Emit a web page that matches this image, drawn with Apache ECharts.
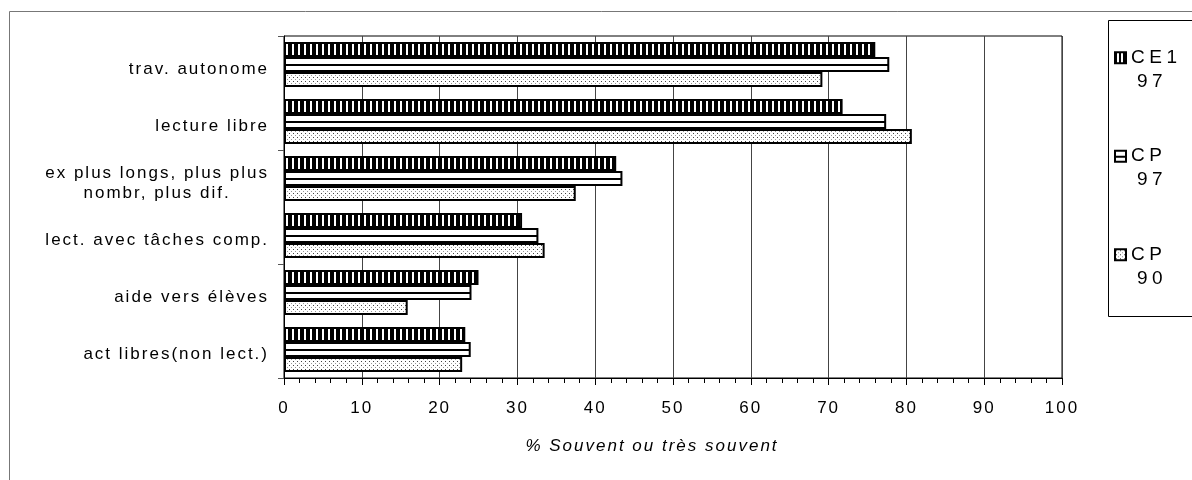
<!DOCTYPE html>
<html>
<head>
<meta charset="utf-8">
<style>
  html, body { margin: 0; padding: 0; background: #fff; }
  #chart { width: 1192px; height: 480px; }
</style>
<script src="https://cdn.jsdelivr.net/npm/echarts@6/dist/echarts.min.js"></script>
</head>
<body>
<div id="chart"></div>
<script>
// Activities, listed top to bottom
const categories = [
  'trav. autonome',
  'lecture libre',
  'ex plus longs, plus plus\nnombr, plus dif.',
  'lect. avec tâches comp.',
  'aide vers élèves',
  'act libres(non lect.)'
];
// % "souvent ou très souvent" per class group
const ce1_97 = [76.0, 71.8, 42.7, 30.6, 25.0, 23.3];
const cp_97  = [77.8, 77.4, 43.5, 32.7, 24.1, 24.0];
const cp_90  = [69.2, 80.7, 37.5, 33.5, 15.9, 22.9];
const seriesNames = ['CE1 97', 'CP 97', 'CP 90'];
const xTicks = [0, 10, 20, 30, 40, 50, 60, 70, 80, 90, 100];
const axisTitle = '% Souvent ou très souvent';

const FONT = 'Liberation Sans, Arial, sans-serif';

// Spread-out lettering: applied to every canvas text draw and measurement
const SPACING_BY_SIZE = { 17: 2, 19: 4.5 };
function applySpacing(ctx) {
  const m = /(\d+(?:\.\d+)?)px/.exec(ctx.font || '');
  const size = m ? Math.round(parseFloat(m[1])) : 0;
  ctx.letterSpacing = (SPACING_BY_SIZE[size] || 0) + 'px';
}
['fillText', 'measureText'].forEach(function (fn) {
  const base = CanvasRenderingContext2D.prototype[fn];
  CanvasRenderingContext2D.prototype[fn] = function () {
    applySpacing(this);
    return base.apply(this, arguments);
  };
});

// Fill patterns
function tile(w, h, draw) {
  const c = document.createElement('canvas');
  c.width = w; c.height = h;
  const g = c.getContext('2d');
  g.fillStyle = '#fff';
  g.fillRect(0, 0, w, h);
  draw(g);
  return c;
}
// black with thin white vertical lines
function stripes(w, black) {
  return tile(w, 4, function (g) {
    g.fillStyle = '#000';
    g.fillRect(0, 0, black, 4);
  });
}
// white with a single horizontal rule per category band (band = 57px)
function ruled(offset) {
  return tile(4, 57, function (g) {
    g.fillStyle = '#000';
    g.fillRect(0, offset, 4, 2);
  });
}
// light dotted fill
const dotted = tile(4, 4, function (g) {
  g.fillStyle = '#444';
  g.fillRect(1, 1, 1, 1);
  g.fillStyle = '#999';
  g.fillRect(3, 3, 1, 1);
});

const fills = [
  { image: stripes(6, 4), repeat: 'repeat' },
  { image: ruled(7), repeat: 'repeat' },
  { image: dotted, repeat: 'repeat' }
];
// legend swatches are filled in their own local coordinates
const legendFills = [
  { image: stripes(4, 2), repeat: 'repeat' },
  { image: ruled(5), repeat: 'repeat' },
  { image: dotted, repeat: 'repeat' }
];
const values = [ce1_97, cp_97, cp_90];

const chart = echarts.init(document.getElementById('chart'), null, { renderer: 'canvas' });

const option = {
  backgroundColor: '#fff',
  animation: false,
  textStyle: { fontFamily: FONT, color: '#000' },
  graphic: [
    { type: 'rect', shape: { x: 9.5, y: 11.5, width: 1300, height: 600 },
      style: { fill: 'none', stroke: '#777', lineWidth: 1 }, z: -10 },
    { type: 'rect', shape: { x: 1108.5, y: 20.5, width: 200, height: 296 },
      style: { fill: '#fff', stroke: '#000', lineWidth: 1 }, z: -5 }
  ],
  grid: {
    left: 284, top: 36, width: 778, height: 342,
    show: true, borderColor: '#000', borderWidth: 1, backgroundColor: '#fff'
  },
  legend: {
    orient: 'vertical',
    left: 1114,
    top: 46,
    padding: 0,
    itemGap: 51,
    itemWidth: 11,
    itemHeight: 11,
    icon: 'rect',
    data: seriesNames.map(function (n, i) {
      return { name: n, itemStyle: { color: legendFills[i] } };
    }),
    formatter: function (name) {
      const parts = name.split(' ');
      return '{a|' + parts[0] + '}\n{b|' + parts[1] + '}';
    },
    textStyle: {
      padding: [24, 0, 0, 0],
      rich: {
        a: { fontFamily: FONT, fontSize: 19, lineHeight: 24, color: '#000' },
        b: { fontFamily: FONT, fontSize: 19, lineHeight: 24, color: '#000', padding: [0, 0, 0, 6] }
      }
    }
  },
  xAxis: {
    type: 'value',
    min: 0,
    max: 100,
    interval: 10,
    name: axisTitle,
    nameLocation: 'middle',
    nameGap: 59,
    nameTextStyle: { fontFamily: FONT, fontSize: 17, fontStyle: 'italic', color: '#000', padding: [0, 42, 0, 0] },
    axisLine: { show: true, lineStyle: { color: '#000', width: 1 } },
    axisTick: { show: true, length: 7, lineStyle: { color: '#000' } },
    minorTick: { show: true, splitNumber: 5, length: 5, lineStyle: { color: '#000' } },
    axisLabel: {
      margin: 21, fontFamily: FONT, fontSize: 17, color: '#000',
      formatter: function (v) { return xTicks.indexOf(v) >= 0 ? String(v) : ''; }
    },
    splitLine: { show: true, lineStyle: { color: '#444', width: 1 } }
  },
  yAxis: {
    type: 'category',
    inverse: true,
    data: categories,
    axisLine: { show: true, lineStyle: { color: '#000', width: 1 } },
    axisTick: { show: true, interval: 1, length: 6, lineStyle: { color: '#555' } },
    axisLabel: {
      margin: 15,
      padding: [9, 0, 0, 0],
      fontFamily: FONT,
      fontSize: 17,
      color: '#000',
      formatter: function (v) {
        return v.split('\n').map(function (l) { return '{c|' + l + '}'; }).join('\n');
      },
      rich: {
        c: { fontFamily: FONT, fontSize: 17, lineHeight: 20, color: '#000', align: 'center' }
      }
    },
    splitLine: { show: false }
  },
  series: seriesNames.map(function (n, i) {
    return {
      name: n,
      type: 'bar',
      data: values[i],
      barGap: '0%',
      barCategoryGap: '21%',
      itemStyle: { color: fills[i], borderColor: '#000', borderWidth: 2 }
    };
  })
};

chart.setOption(option);
</script>
</body>
</html>
